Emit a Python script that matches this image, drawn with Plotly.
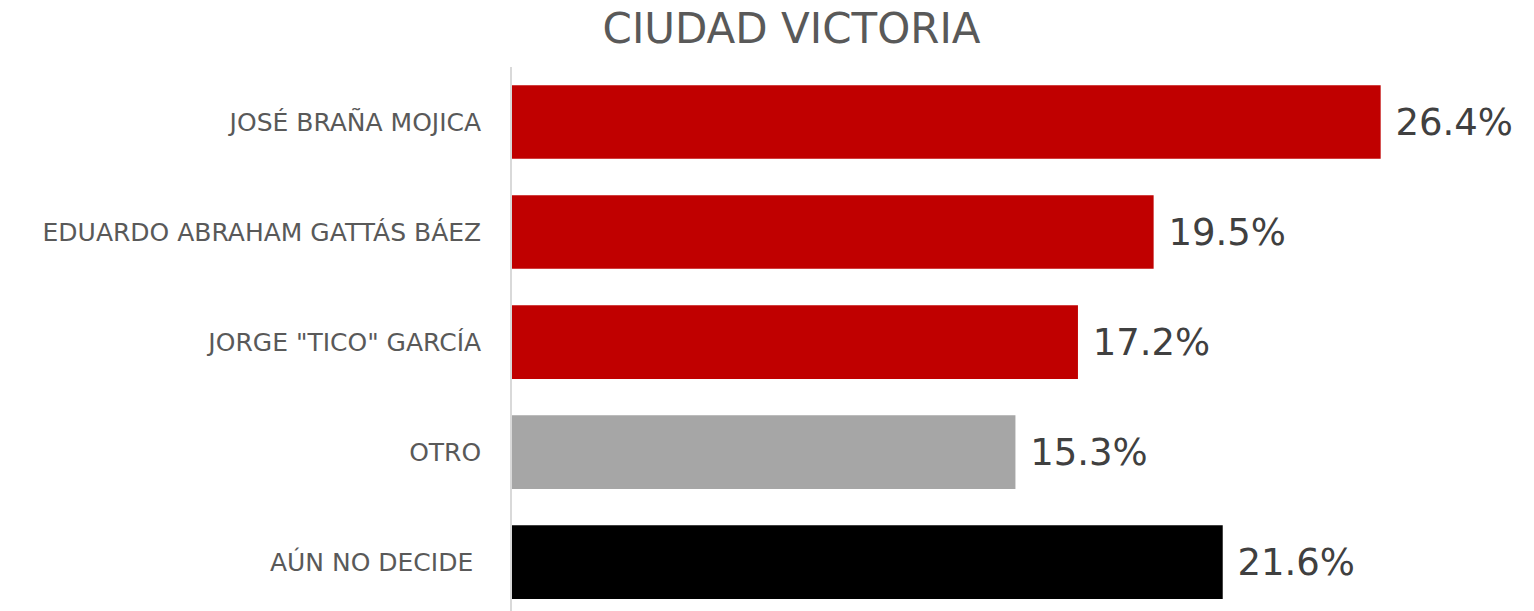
import plotly.graph_objects as go

candidatos = ["JOSÉ BRAÑA MOJICA", "EDUARDO ABRAHAM GATTÁS BÁEZ", 'JORGE "TICO" GARCÍA', "OTRO", "AÚN NO DECIDE "]
porcentajes = [26.4, 19.5, 17.2, 15.3, 21.6]
colores = ["#c00000", "#c00000", "#c00000", "#a6a6a6", "#000000"]

fig = go.Figure(go.Bar(
    x=porcentajes,
    y=candidatos,
    orientation="h",
    marker_color=colores,
    marker_line_width=0,
    width=0.67,
    texttemplate=" %{x:.1f}%",
    textposition="outside",
    textfont=dict(size=37, color="#404040"),
    cliponaxis=False,
))

fig.update_layout(
    width=1534, height=611,
    template=None,
    paper_bgcolor="white", plot_bgcolor="white",
    font=dict(family="DejaVu Sans, sans-serif"),
    title=dict(text="CIUDAD VICTORIA", x=0.516, xanchor="center", y=0.953, yanchor="middle",
               font=dict(size=42, color="#595959")),
    margin=dict(l=512, r=0, t=67, b=0, autoexpand=False),
    showlegend=False,
    xaxis=dict(range=[0, 31.06], showgrid=False, zeroline=False, showticklabels=False, ticks=""),
    yaxis=dict(range=[4.445, -0.5], showgrid=False, zeroline=False, showline=True,
               linecolor="#d9d9d9", linewidth=2, ticks="", ticksuffix="   ",
               tickfont=dict(size=25, color="#595959")),
)

# drop the default body margin so the figure fills the window exactly
fig.write_html("out.html", config={"displayModeBar": False},
               post_script="document.body.style.margin = '0';")
